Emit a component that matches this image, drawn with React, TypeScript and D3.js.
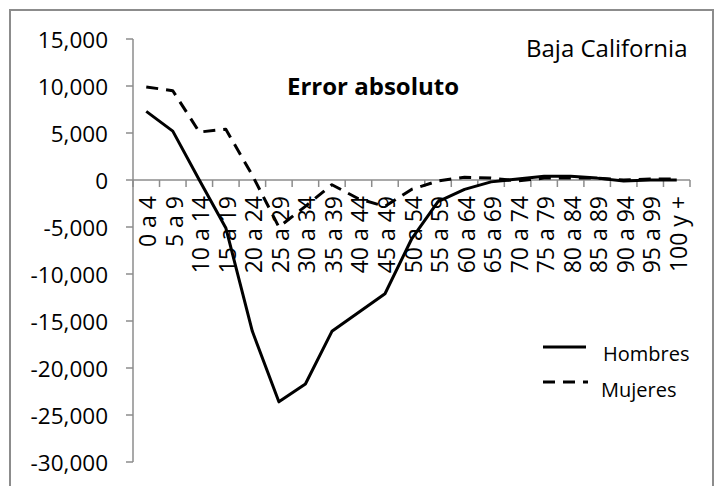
import React from "react";
import * as d3 from "d3";

const categories = ["0 a 4","5 a 9","10 a 14","15 a 19","20 a 24","25 a 29","30 a 34","35 a 39","40 a 44","45 a 49","50 a 54","55 a 59","60 a 64","65 a 69","70 a 74","75 a 79","80 a 84","85 a 89","90 a 94","95 a 99","100 y +"];
const hombres = [7300, 5200, 0, -5100, -16100, -23600, -21700, -16100, -14100, -12100, -6300, -2300, -1000, -200, 100, 400, 400, 200, -100, 0, 0];
const mujeres = [9900, 9500, 5100, 5400, 500, -5000, -2800, -500, -2000, -2800, -1000, -100, 300, 200, -100, 200, 200, 200, 0, 100, 100];
const yTicks = [15000, 10000, 5000, 0, -5000, -10000, -15000, -20000, -25000, -30000];
const seriesNames = ["Hombres", "Mujeres"];
const title = "Error absoluto";
const region = "Baja California";

const W = 715, H = 486;
const FONT = "'Open Sans', sans-serif";

export default function App() {
  const x = d3.scaleBand<string>().domain(categories).range([133, 690]);
  const y = d3.scaleLinear().domain([-30000, 15000]).range([462, 39]);
  const fmt0 = d3.format(",");
  const fmt = (v: number) => fmt0(v).replace("\u2212", "-");
  const line = d3.line<number>()
    .x((_, i) => (x(categories[i]) as number) + x.bandwidth() / 2)
    .y((d) => y(d));
  const axisColor = "#8c8c8c";
  return (
    <svg width={W} height={H} style={{ position: "absolute", left: 0, top: 0 }} fontFamily={FONT}>
      <rect x={0} y={0} width={W} height={H} fill="#fff" />
      <rect x={10} y={10} width={703} height={500} fill="#fff" stroke={axisColor} strokeWidth={2} />
      {/* y axis */}
      <line x1={133} x2={133} y1={y(15000)} y2={y(-30000)} stroke={axisColor} strokeWidth={1.5} />
      {yTicks.map((t) => (
        <g key={t}>
          <line x1={126} x2={133} y1={y(t)} y2={y(t)} stroke={axisColor} strokeWidth={1.5} />
          <text x={108} y={y(t)} textAnchor="end" dominantBaseline="central" fontSize={22.5} fill="#000">
            {fmt(t)}
          </text>
        </g>
      ))}
      {/* x axis */}
      <line x1={133} x2={690} y1={y(0)} y2={y(0)} stroke={axisColor} strokeWidth={1.5} />
      {categories.map((c) => (
        <line key={"t" + c} x1={(x(c) as number) + x.bandwidth()} x2={(x(c) as number) + x.bandwidth()} y1={y(0)} y2={y(0) + 7} stroke={axisColor} strokeWidth={1.5} />
      ))}
      <line x1={133} x2={133} y1={y(0)} y2={y(0) + 7} stroke={axisColor} strokeWidth={1.5} />
      {categories.map((c) => {
        const cx = (x(c) as number) + x.bandwidth() / 2 + 1;
        const ty = y(0) + 16;
        return (
          <text key={"l" + c} transform={`translate(${cx},${ty}) rotate(-90)`} textAnchor="end" dominantBaseline="central" fontSize={23} fill="#000">
            {c}
          </text>
        );
      })}
      {/* series */}
      <path d={line(hombres) || ""} fill="none" stroke="#000" strokeWidth={3} strokeLinejoin="round" />
      <path d={line(mujeres) || ""} fill="none" stroke="#000" strokeWidth={3} strokeDasharray="12,8" strokeLinejoin="round" />
      {/* title */}
      <text x={287} y={85} dominantBaseline="central" fontSize={24} fontWeight="bold" fill="#000">{title}</text>
      <text x={526} y={47} dominantBaseline="central" fontSize={24} fill="#000">{region}</text>
      {/* legend */}
      <line x1={543} x2={586} y1={347} y2={347} stroke="#000" strokeWidth={3} />
      <text x={603} y={353} dominantBaseline="central" fontSize={20} fill="#000">{seriesNames[0]}</text>
      <line x1={543} x2={588} y1={382} y2={382} stroke="#000" strokeWidth={3} strokeDasharray="12,8" />
      <text x={601} y={389} dominantBaseline="central" fontSize={20} fill="#000">{seriesNames[1]}</text>
    </svg>
  );
}
